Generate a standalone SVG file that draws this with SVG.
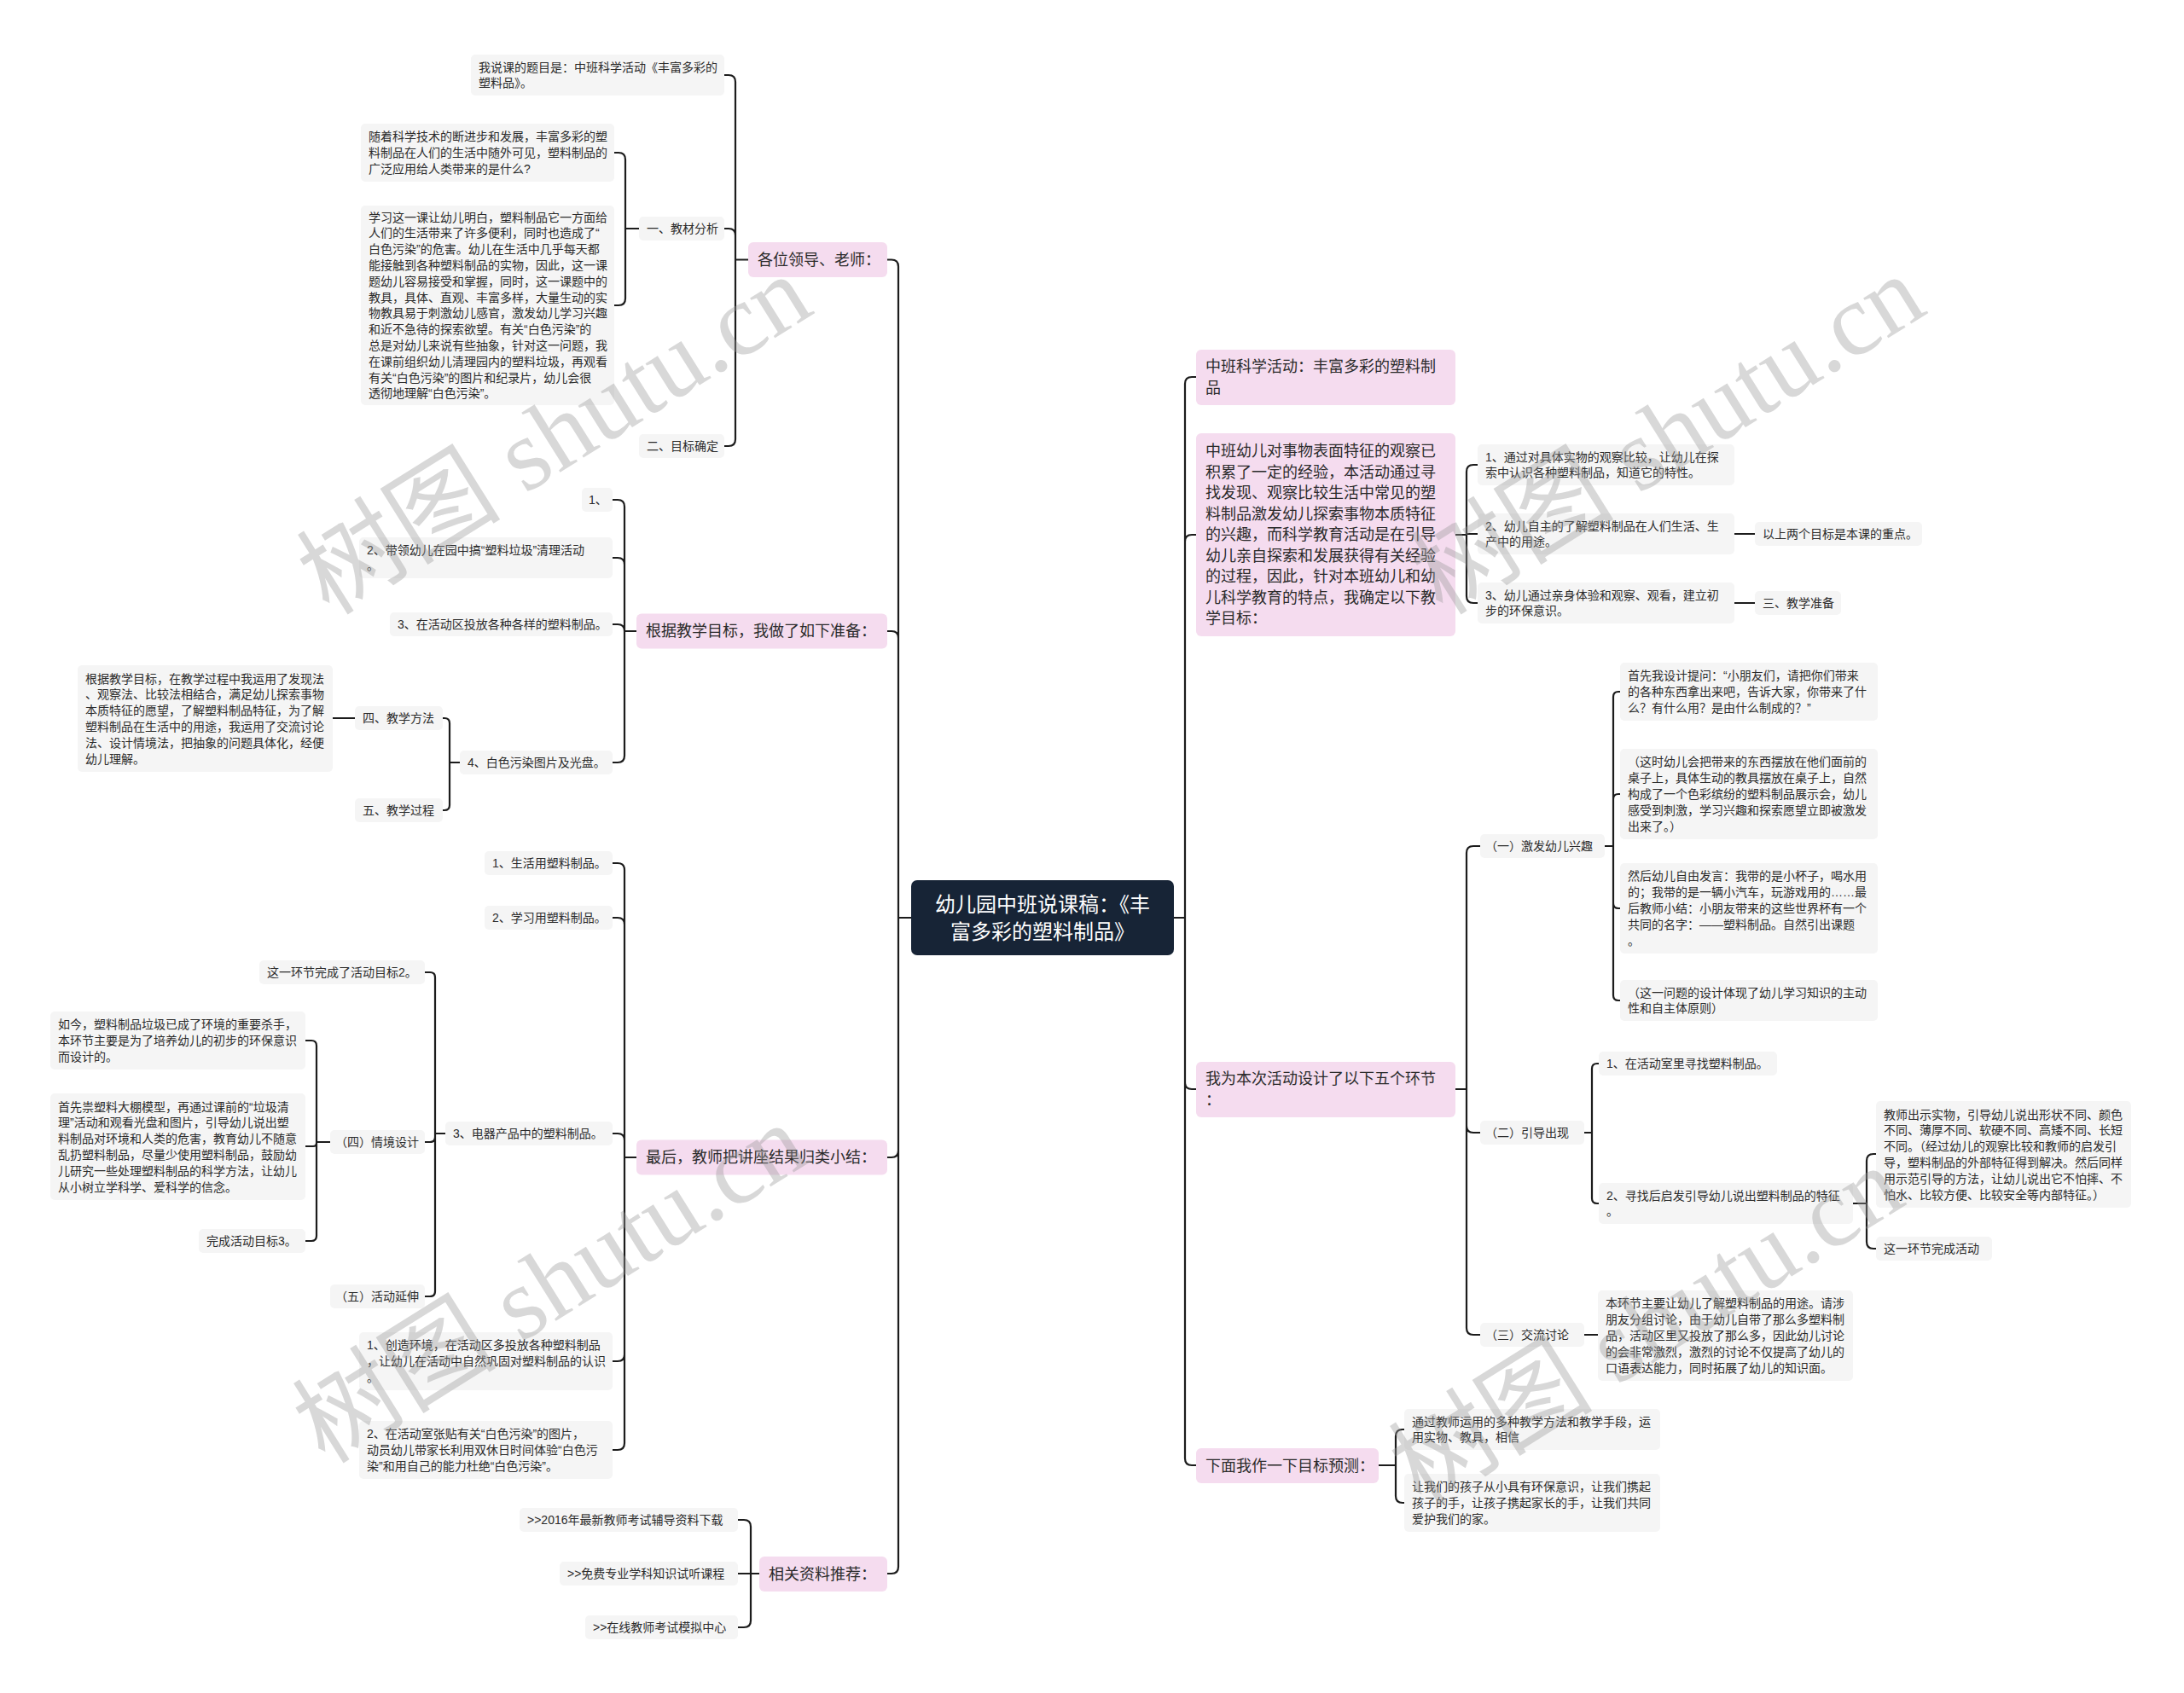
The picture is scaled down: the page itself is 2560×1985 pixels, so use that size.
<svg xmlns="http://www.w3.org/2000/svg" width="2560" height="1985" viewBox="0 0 2560 1985">
<style>
.pk{fill:#f5dcef}
.gy{fill:#f5f5f5}
text{font-family:"Liberation Sans","Noto Sans CJK SC",sans-serif;dominant-baseline:central;fill:#2b2b2b}
.s{font-size:14px}
.m{font-size:18px}
.ct{font-size:24px;fill:#ffffff;text-anchor:middle}
.ln{fill:none;stroke:#1c1c1c;stroke-width:2.2;stroke-linecap:round}
.wm{font-family:"Liberation Serif","Noto Sans CJK SC",serif;font-size:120px;fill:#9a9a9a;opacity:.38;text-anchor:middle}
</style>
<rect width="2560" height="1985" fill="#ffffff"/>

<g id="connectors">
<path class="ln" d="M1068 1076H1053M1053 1076V312.5Q1053 304.5 1045 304.5H1040M1053 1076V748Q1053 740 1045 740H1040M1053 1076V1349Q1053 1357 1045 1357H1040M1053 1076V1837Q1053 1845 1045 1845H1040"/>
<path class="ln" d="M1376 1076H1389M1389 1076V450Q1389 442 1397 442H1402M1389 1076V635Q1389 627 1397 627H1402M1389 1076V1269Q1389 1277 1397 1277H1402M1389 1076V1710Q1389 1718 1397 1718H1402"/>
<path class="ln" d="M877 304.5H862M862 304.5V96Q862 88 854 88H849M862 304.5V276Q862 268 854 268H849M862 304.5V515Q862 523 854 523H849"/>
<path class="ln" d="M749 268H733M733 268V187Q733 179 725 179H720M733 268V350Q733 358 725 358H720"/>
<path class="ln" d="M746 740H732M732 740V594Q732 586 724 586H718M732 740V662Q732 654 724 654H718M732 740Q732 732 724 732H718M732 740V886Q732 894 724 894H718"/>
<path class="ln" d="M539 894H527M527 894V848Q527 842 521 842H519M527 894V944Q527 950 521 950H519M416 842H390"/>
<path class="ln" d="M746 1357H732M732 1357V1020Q732 1012 724 1012H718M732 1357V1084Q732 1076 724 1076H718M732 1357V1337Q732 1329 724 1329H718M732 1357V1588Q732 1596 724 1596H718M732 1357V1692Q732 1700 724 1700H718"/>
<path class="ln" d="M522 1329H510M510 1329V1146Q510 1140 504 1140H498M510 1329V1333Q510 1339 504 1339H498M510 1329V1514Q510 1520 504 1520H498"/>
<path class="ln" d="M387 1339H371M371 1339V1226Q371 1220 365 1220H358M371 1339V1340Q371 1344 367 1344H358M371 1339V1449Q371 1455 365 1455H358"/>
<path class="ln" d="M890 1845H880M880 1845V1790Q880 1782 872 1782H865M880 1845H865M880 1845V1900Q880 1908 872 1908H865"/>
<path class="ln" d="M1706 627H1719M1719 627V553Q1719 545 1727 545H1732M1719 627V626H1732M1719 627V699Q1719 707 1727 707H1732M2033 626H2057M2033 707H2057"/>
<path class="ln" d="M1706 1277H1719M1719 1277V1000Q1719 992 1727 992H1735M1719 1277V1320Q1719 1328 1727 1328H1735M1719 1277V1557Q1719 1565 1727 1565H1735"/>
<path class="ln" d="M1881 992H1891M1891 992V817Q1891 811 1897 811H1899M1891 992V937Q1891 931 1897 931H1899M1891 992V1059Q1891 1065 1897 1065H1899M1891 992V1167Q1891 1173 1897 1173H1899"/>
<path class="ln" d="M1857 1328H1866M1866 1328V1253Q1866 1247 1872 1247H1874M1866 1328V1405Q1866 1411 1872 1411H1874"/>
<path class="ln" d="M2172 1411H2188M2188 1411V1361Q2188 1353 2196 1353H2199M2188 1411V1456Q2188 1464 2196 1464H2199"/>
<path class="ln" d="M1857 1565H1873"/>
<path class="ln" d="M1616 1718H1636M1636 1718V1684Q1636 1676 1644 1676H1646M1636 1718V1754Q1636 1762 1644 1762H1646"/>
</g>

<g id="center">
<rect x="1068" y="1032" width="308" height="88" rx="7" fill="#172436"/>
<text class="ct"><tspan x="1222" y="1060">幼儿园中班说课稿：《丰</tspan><tspan x="1222" y="1092">富多彩的塑料制品》</tspan></text>
</g>

<g id="nA">
<rect class="pk" x="877" y="284" width="163" height="41" rx="6"/>
<text class="m" x="888" y="304.5">各位领导、老师：</text>
</g>
<g id="nA1">
<rect class="gy" x="552" y="64" width="297" height="48" rx="5"/>
<text class="s"><tspan x="561" y="78.6">我说课的题目是：中班科学活动《丰富多彩的</tspan><tspan x="561" y="97.4">塑料品》。</tspan></text>
</g>
<g id="nA2">
<rect class="gy" x="749" y="254" width="100" height="28" rx="5"/>
<text class="s" x="758" y="268">一、教材分析</text>
</g>
<g id="nA3">
<rect class="gy" x="749" y="509" width="100" height="28" rx="5"/>
<text class="s" x="758" y="523">二、目标确定</text>
</g>
<g id="nA2a">
<rect class="gy" x="423" y="145" width="297" height="68" rx="5"/>
<text class="s"><tspan x="432" y="160.2">随着科学技术的断进步和发展，丰富多彩的塑</tspan><tspan x="432" y="179">料制品在人们的生活中随外可见，塑料制品的</tspan><tspan x="432" y="197.8">广泛应用给人类带来的是什么?</tspan></text>
</g>
<g id="nA2b">
<rect class="gy" x="423" y="241" width="297" height="234" rx="5"/>
<text class="s"><tspan x="432" y="254.6">学习这一课让幼儿明白，塑料制品它一方面给</tspan><tspan x="432" y="273.4">人们的生活带来了许多便利，同时也造成了“</tspan><tspan x="432" y="292.2">白色污染”的危害。幼儿在生活中几乎每天都</tspan><tspan x="432" y="311">能接触到各种塑料制品的实物，因此，这一课</tspan><tspan x="432" y="329.8">题幼儿容易接受和掌握，同时，这一课题中的</tspan><tspan x="432" y="348.6">教具，具体、直观、丰富多样，大量生动的实</tspan><tspan x="432" y="367.4">物教具易于刺激幼儿感官，激发幼儿学习兴趣</tspan><tspan x="432" y="386.2">和近不急待的探索欲望。有关“白色污染”的</tspan><tspan x="432" y="405">总是对幼儿来说有些抽象，针对这一问题，我</tspan><tspan x="432" y="423.8">在课前组织幼儿清理园内的塑料垃圾，再观看</tspan><tspan x="432" y="442.6">有关“白色污染”的图片和纪录片，幼儿会很</tspan><tspan x="432" y="461.4">透彻地理解“白色污染”。</tspan></text>
</g>

<g id="nB">
<rect class="pk" x="746" y="719.5" width="294" height="41" rx="6"/>
<text class="m" x="757" y="740">根据教学目标，我做了如下准备：</text>
</g>
<g id="nB1">
<rect class="gy" x="682" y="572" width="36" height="28" rx="5"/>
<text class="s" x="690" y="586">1、</text>
</g>
<g id="nB2">
<rect class="gy" x="421" y="630" width="297" height="48" rx="5"/>
<text class="s"><tspan x="430" y="644.6">2、带领幼儿在园中搞“塑料垃圾”清理活动</tspan><tspan x="430" y="663.4">。</tspan></text>
</g>
<g id="nB3">
<rect class="gy" x="457" y="718" width="261" height="28" rx="5"/>
<text class="s" x="466" y="732">3、在活动区投放各种各样的塑料制品。</text>
</g>
<g id="nB4">
<rect class="gy" x="539" y="880" width="179" height="28" rx="5"/>
<text class="s" x="548" y="894">4、白色污染图片及光盘。</text>
</g>
<g id="nB4a">
<rect class="gy" x="416" y="828" width="103" height="28" rx="5"/>
<text class="s" x="425" y="842">四、教学方法</text>
</g>
<g id="nB4b">
<rect class="gy" x="416" y="936" width="103" height="28" rx="5"/>
<text class="s" x="425" y="950">五、教学过程</text>
</g>
<g id="nB4a1">
<rect class="gy" x="91" y="780" width="299" height="125" rx="5"/>
<text class="s"><tspan x="100" y="795.5">根据教学目标，在教学过程中我运用了发现法</tspan><tspan x="100" y="814.3">、观察法、比较法相结合，满足幼儿探索事物</tspan><tspan x="100" y="833.1">本质特征的愿望，了解塑料制品特征，为了解</tspan><tspan x="100" y="851.9">塑料制品在生活中的用途，我运用了交流讨论</tspan><tspan x="100" y="870.7">法、设计情境法，把抽象的问题具体化，经便</tspan><tspan x="100" y="889.5">幼儿理解。</tspan></text>
</g>

<g id="nC">
<rect class="pk" x="746" y="1336.5" width="294" height="41" rx="6"/>
<text class="m" x="757" y="1357">最后，教师把讲座结果归类小结：</text>
</g>
<g id="nC1">
<rect class="gy" x="568" y="998" width="150" height="28" rx="5"/>
<text class="s" x="577" y="1012">1、生活用塑料制品。</text>
</g>
<g id="nC2">
<rect class="gy" x="568" y="1062" width="150" height="28" rx="5"/>
<text class="s" x="577" y="1076">2、学习用塑料制品。</text>
</g>
<g id="nC3">
<rect class="gy" x="522" y="1315" width="196" height="28" rx="5"/>
<text class="s" x="531" y="1329">3、电器产品中的塑料制品。</text>
</g>
<g id="nC4">
<rect class="gy" x="421" y="1562" width="297" height="68" rx="5"/>
<text class="s"><tspan x="430" y="1577.2">1、创造环境，在活动区多投放各种塑料制品</tspan><tspan x="430" y="1596">，让幼儿在活动中自然巩固对塑料制品的认识</tspan><tspan x="430" y="1614.8">。</tspan></text>
</g>
<g id="nC5">
<rect class="gy" x="421" y="1666" width="297" height="68" rx="5"/>
<text class="s"><tspan x="430" y="1681.2">2、在活动室张贴有关“白色污染”的图片，</tspan><tspan x="430" y="1700">动员幼儿带家长利用双休日时间体验“白色污</tspan><tspan x="430" y="1718.8">染”和用自己的能力杜绝“白色污染”。</tspan></text>
</g>
<g id="nC3a">
<rect class="gy" x="304" y="1126" width="194" height="28" rx="5"/>
<text class="s" x="313" y="1140">这一环节完成了活动目标2。</text>
</g>
<g id="nC3b">
<rect class="gy" x="387" y="1325" width="111" height="28" rx="5"/>
<text class="s" x="393" y="1339">（四）情境设计</text>
</g>
<g id="nC3c">
<rect class="gy" x="387" y="1506" width="111" height="28" rx="5"/>
<text class="s" x="393" y="1520">（五）活动延伸</text>
</g>
<g id="nC3b1">
<rect class="gy" x="59" y="1186" width="299" height="68" rx="5"/>
<text class="s"><tspan x="68" y="1201.2">如今，塑料制品垃圾已成了环境的重要杀手，</tspan><tspan x="68" y="1220">本环节主要是为了培养幼儿的初步的环保意识</tspan><tspan x="68" y="1238.8">而设计的。</tspan></text>
</g>
<g id="nC3b2">
<rect class="gy" x="59" y="1282" width="299" height="125" rx="5"/>
<text class="s"><tspan x="68" y="1297.5">首先祟塑料大棚模型，再通过课前的“垃圾清</tspan><tspan x="68" y="1316.3">理”活动和观看光盘和图片，引导幼儿说出塑</tspan><tspan x="68" y="1335.1">料制品对环境和人类的危害，教育幼儿不随意</tspan><tspan x="68" y="1353.9">乱扔塑料制品，尽量少使用塑料制品，鼓励幼</tspan><tspan x="68" y="1372.7">儿研究一些处理塑料制品的科学方法，让幼儿</tspan><tspan x="68" y="1391.5">从小树立学科学、爱科学的信念。</tspan></text>
</g>
<g id="nC3b3">
<rect class="gy" x="233" y="1441" width="125" height="28" rx="5"/>
<text class="s" x="242" y="1455">完成活动目标3。</text>
</g>

<g id="nD">
<rect class="pk" x="890" y="1825" width="150" height="41" rx="6"/>
<text class="m" x="901" y="1845.5">相关资料推荐：</text>
</g>
<g id="nD1">
<rect class="gy" x="609" y="1768" width="256" height="28" rx="5"/>
<text class="s" x="618" y="1782">&gt;&gt;2016年最新教师考试辅导资料下载</text>
</g>
<g id="nD2">
<rect class="gy" x="656" y="1831" width="209" height="28" rx="5"/>
<text class="s" x="665" y="1845">&gt;&gt;免费专业学科知识试听课程</text>
</g>
<g id="nD3">
<rect class="gy" x="686" y="1894" width="179" height="28" rx="5"/>
<text class="s" x="695" y="1908">&gt;&gt;在线教师考试模拟中心</text>
</g>

<g id="nE">
<rect class="pk" x="1402" y="410" width="304" height="65" rx="6"/>
<text class="m"><tspan x="1413" y="430.25">中班科学活动：丰富多彩的塑料制</tspan><tspan x="1413" y="454.75">品</tspan></text>
</g>
<g id="nF">
<rect class="pk" x="1402" y="508" width="304" height="238" rx="6"/>
<text class="m"><tspan x="1413" y="529">中班幼儿对事物表面特征的观察已</tspan><tspan x="1413" y="553.5">积累了一定的经验，本活动通过寻</tspan><tspan x="1413" y="578">找发现、观察比较生活中常见的塑</tspan><tspan x="1413" y="602.5">料制品激发幼儿探索事物本质特征</tspan><tspan x="1413" y="627">的兴趣，而科学教育活动是在引导</tspan><tspan x="1413" y="651.5">幼儿亲自探索和发展获得有关经验</tspan><tspan x="1413" y="676">的过程，因此，针对本班幼儿和幼</tspan><tspan x="1413" y="700.5">儿科学教育的特点，我确定以下教</tspan><tspan x="1413" y="725">学目标：</tspan></text>
</g>
<g id="nF1">
<rect class="gy" x="1732" y="521" width="301" height="48" rx="5"/>
<text class="s"><tspan x="1741" y="535.6">1、通过对具体实物的观察比较，让幼儿在探</tspan><tspan x="1741" y="554.4">索中认识各种塑料制品，知道它的特性。</tspan></text>
</g>
<g id="nF2">
<rect class="gy" x="1732" y="602" width="301" height="48" rx="5"/>
<text class="s"><tspan x="1741" y="616.6">2、幼儿自主的了解塑料制品在人们生活、生</tspan><tspan x="1741" y="635.4">产中的用途。</tspan></text>
</g>
<g id="nF3">
<rect class="gy" x="1732" y="683" width="301" height="48" rx="5"/>
<text class="s"><tspan x="1741" y="697.6">3、幼儿通过亲身体验和观察、观看，建立初</tspan><tspan x="1741" y="716.4">步的环保意识。</tspan></text>
</g>
<g id="nF2a">
<rect class="gy" x="2057" y="612" width="196" height="28" rx="5"/>
<text class="s" x="2066" y="626">以上两个目标是本课的重点。</text>
</g>
<g id="nF3a">
<rect class="gy" x="2057" y="693" width="101" height="28" rx="5"/>
<text class="s" x="2066" y="707">三、教学准备</text>
</g>

<g id="nG">
<rect class="pk" x="1402" y="1245" width="304" height="65" rx="6"/>
<text class="m"><tspan x="1413" y="1265.25">我为本次活动设计了以下五个环节</tspan><tspan x="1413" y="1289.75">：</tspan></text>
</g>
<g id="nG1">
<rect class="gy" x="1735" y="978" width="146" height="28" rx="5"/>
<text class="s" x="1741" y="992">（一）激发幼儿兴趣</text>
</g>
<g id="nG2">
<rect class="gy" x="1735" y="1314" width="122" height="28" rx="5"/>
<text class="s" x="1741" y="1328">（二）引导出现</text>
</g>
<g id="nG3">
<rect class="gy" x="1735" y="1551" width="122" height="28" rx="5"/>
<text class="s" x="1741" y="1565">（三）交流讨论</text>
</g>
<g id="nG1a">
<rect class="gy" x="1899" y="777" width="302" height="68" rx="5"/>
<text class="s"><tspan x="1908" y="792.2">首先我设计提问：“小朋友们，请把你们带来</tspan><tspan x="1908" y="811">的各种东西拿出来吧，告诉大家，你带来了什</tspan><tspan x="1908" y="829.8">么？有什么用？是由什么制成的？”</tspan></text>
</g>
<g id="nG1b">
<rect class="gy" x="1899" y="878" width="302" height="106" rx="5"/>
<text class="s"><tspan x="1908" y="893.4">（这时幼儿会把带来的东西摆放在他们面前的</tspan><tspan x="1908" y="912.2">桌子上，具体生动的教具摆放在桌子上，自然</tspan><tspan x="1908" y="931">构成了一个色彩缤纷的塑料制品展示会，幼儿</tspan><tspan x="1908" y="949.8">感受到刺激，学习兴趣和探索愿望立即被激发</tspan><tspan x="1908" y="968.6">出来了。）</tspan></text>
</g>
<g id="nG1c">
<rect class="gy" x="1899" y="1012" width="302" height="106" rx="5"/>
<text class="s"><tspan x="1908" y="1027.4">然后幼儿自由发言：我带的是小杯子，喝水用</tspan><tspan x="1908" y="1046.2">的；我带的是一辆小汽车，玩游戏用的……最</tspan><tspan x="1908" y="1065">后教师小结：小朋友带来的这些世界杯有一个</tspan><tspan x="1908" y="1083.8">共同的名字：——塑料制品。自然引出课题</tspan><tspan x="1908" y="1102.6">。</tspan></text>
</g>
<g id="nG1d">
<rect class="gy" x="1899" y="1149" width="302" height="48" rx="5"/>
<text class="s"><tspan x="1908" y="1163.6">（这一问题的设计体现了幼儿学习知识的主动</tspan><tspan x="1908" y="1182.4">性和自主体原则）</tspan></text>
</g>
<g id="nG2a">
<rect class="gy" x="1874" y="1233" width="209" height="28" rx="5"/>
<text class="s" x="1883" y="1247">1、在活动室里寻找塑料制品。</text>
</g>
<g id="nG2b">
<rect class="gy" x="1874" y="1387" width="298" height="48" rx="5"/>
<text class="s"><tspan x="1883" y="1401.6">2、寻找后启发引导幼儿说出塑料制品的特征</tspan><tspan x="1883" y="1420.4">。</tspan></text>
</g>
<g id="nG2b1">
<rect class="gy" x="2199" y="1291" width="299" height="125" rx="5"/>
<text class="s"><tspan x="2208" y="1306.5">教师出示实物，引导幼儿说出形状不同、颜色</tspan><tspan x="2208" y="1325.3">不同、薄厚不同、软硬不同、高矮不同、长短</tspan><tspan x="2208" y="1344.1">不同。（经过幼儿的观察比较和教师的启发引</tspan><tspan x="2208" y="1362.9">导，塑料制品的外部特征得到解决。然后同样</tspan><tspan x="2208" y="1381.7">用示范引导的方法，让幼儿说出它不怕摔、不</tspan><tspan x="2208" y="1400.5">怕水、比较方便、比较安全等内部特征。）</tspan></text>
</g>
<g id="nG2b2">
<rect class="gy" x="2199" y="1450" width="136" height="28" rx="5"/>
<text class="s" x="2208" y="1464">这一环节完成活动</text>
</g>
<g id="nG3a">
<rect class="gy" x="1873" y="1513" width="299" height="106" rx="5"/>
<text class="s"><tspan x="1882" y="1528.4">本环节主要让幼儿了解塑料制品的用途。请涉</tspan><tspan x="1882" y="1547.2">朋友分组讨论，由于幼儿自带了那么多塑料制</tspan><tspan x="1882" y="1566">品，活动区里又投放了那么多，因此幼儿讨论</tspan><tspan x="1882" y="1584.8">的会非常激烈，激烈的讨论不仅提高了幼儿的</tspan><tspan x="1882" y="1603.6">口语表达能力，同时拓展了幼儿的知识面。</tspan></text>
</g>

<g id="nH">
<rect class="pk" x="1402" y="1698" width="214" height="41" rx="6"/>
<text class="m" x="1413" y="1718.5">下面我作一下目标预测：</text>
</g>
<g id="nH1">
<rect class="gy" x="1646" y="1652" width="300" height="48" rx="5"/>
<text class="s"><tspan x="1655" y="1666.6">通过教师运用的多种教学方法和教学手段，运</tspan><tspan x="1655" y="1685.4">用实物、教具，相信</tspan></text>
</g>
<g id="nH2">
<rect class="gy" x="1646" y="1728" width="300" height="68" rx="5"/>
<text class="s"><tspan x="1655" y="1743.2">让我们的孩子从小具有环保意识，让我们携起</tspan><tspan x="1655" y="1762">孩子的手，让孩子携起家长的手，让我们共同</tspan><tspan x="1655" y="1780.8">爱护我们的家。</tspan></text>
</g>

<g id="watermarks">
<text class="wm" transform="translate(650 510) rotate(-32)">树图 shutu.cn</text>
<text class="wm" transform="translate(1955 510) rotate(-32)">树图 shutu.cn</text>
<text class="wm" transform="translate(645 1505) rotate(-32)">树图 shutu.cn</text>
<text class="wm" transform="translate(1930 1555) rotate(-32)">树图 shutu.cn</text>
</g>
</svg>
